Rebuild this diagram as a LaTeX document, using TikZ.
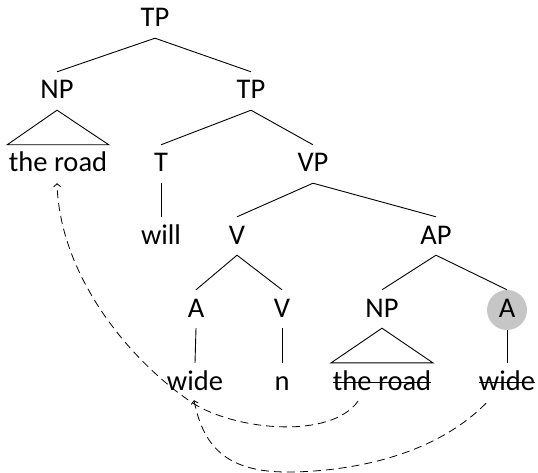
\documentclass[tikz,border=0pt]{standalone}
\usepackage{fontspec}
\setmainfont{Carlito}
\usetikzlibrary{arrows.meta}
\newcommand\treebranch[2]{\draw[edge] ([yshift=-11pt]#1.south) -- ([yshift=8pt]#2.north);}
\newcommand\treetri[2]{\draw[edge] ([yshift=-11pt]#1.south) -- ([xshift=-1.5pt,yshift=8pt]#2.north west) -- ([xshift=1.5pt,yshift=8pt]#2.north east) -- cycle;}
\newcommand\treestrike[1]{\draw[edge] ([yshift=8pt]#1.base west) -- ([yshift=8pt]#1.base east);}
\begin{document}
\begin{tikzpicture}[x=1pt,y=-1pt,
  lbl/.style={font=\fontsize{28.5}{30}\selectfont, inner xsep=0pt, inner ysep=0pt,
              text height=19pt, text depth=0pt, anchor=base},
  edge/.style={line width=0.9pt},
  mv/.style={line width=0.8pt, dash pattern=on 8pt off 5pt,
             -{Straight Barb[length=3pt,width=7pt]}},
  hl/.style={circle, fill=gray!45, minimum size=40pt, inner sep=0pt}]
\useasboundingbox (0,0) rectangle (538,473);
% nodes
\node[lbl] (tp) at (155,27) {TP};
\node[lbl] (np) at (57,99) {NP};
\node[lbl] (tp2) at (251,99) {TP};
\node[lbl] (road1) at (58,172) {the road};
\node[lbl] (t) at (161,172) {T};
\node[lbl] (vp) at (313,172) {VP};
\node[lbl] (will) at (161,244) {will};
\node[lbl] (v) at (237,244) {V};
\node[lbl] (ap) at (436,244) {AP};
\node[lbl] (a) at (196,317) {A};
\node[lbl] (v2) at (282,317) {V};
\node[lbl] (np2) at (382,317) {NP};
\node[hl] (acirc) at (507,310) {};
\node[lbl] (a2) at (507,317) {A};
\node[lbl] (wide) at (195,390) {wide};
\node[lbl] (n) at (282,390) {n};
\node[lbl] (road2) at (382,390) {the road};
\node[lbl] (wide2) at (507,390) {wide};
% branches
\treebranch{tp}{np}
\treebranch{tp}{tp2}
\treetri{np}{road1}
\treebranch{tp2}{t}
\treebranch{tp2}{vp}
\treebranch{t}{will}
\treebranch{vp}{v}
\treebranch{vp}{ap}
\treebranch{v}{a}
\treebranch{v}{v2}
\treebranch{ap}{np2}
\draw[edge] ([yshift=-11pt]ap.south) -- (acirc.north);
\treebranch{a}{wide}
\treebranch{v2}{n}
\treetri{np2}{road2}
\draw[edge] (acirc.south) -- ([yshift=8pt]wide2.north);
% strikes
\treestrike{road2}
\treestrike{wide2}
% movement arrows
\coordinate (s1) at ([xshift=-24pt,yshift=-11pt]road2.south);
\coordinate (m1) at ([xshift=-2pt,yshift=-13pt]wide.south);
\coordinate (e1) at ([xshift=-1pt,yshift=-11pt]road1.south);
\draw[mv] (s1) .. controls (330,440) and (235,430) .. (m1) .. controls (135,365) and (60,280) .. (e1);
\coordinate (s2) at ([xshift=-21pt,yshift=-13pt]wide2.south);
\coordinate (b2) at (287,472);
\coordinate (e2) at ([xshift=-1pt,yshift=-10pt]wide.south);
\draw[mv] (s2) .. controls (430,460) and (340,472) .. (b2) .. controls (225,472) and (203,445) .. (e2);
\end{tikzpicture}
\end{document}
